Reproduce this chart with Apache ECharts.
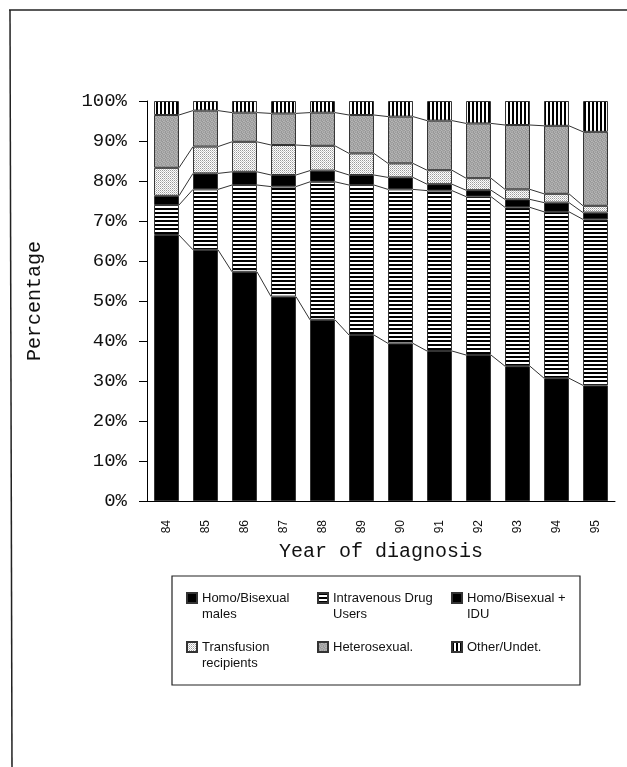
<!DOCTYPE html>
<html>
<head>
<meta charset="utf-8">
<script src="https://cdn.jsdelivr.net/npm/echarts@6/dist/echarts.min.js"></script>
<style>html,body{margin:0;padding:0;background:#fff}#c{width:627px;height:767px}</style>
</head>
<body>
<div id="c"></div>
<script>
// ---- data ----
const years = ['84','85','86','87','88','89','90','91','92','93','94','95'];
const homoBi      = [66.5, 62.8, 57.3, 51.1, 45.3, 41.5, 39.4, 37.5, 36.5, 33.7, 30.7, 28.9];
const idu         = [7.5, 15.1, 21.7, 27.5, 34.5, 37.5, 38.5, 40.1, 39.6, 39.7, 41.6, 41.5];
const homoBiIdu   = [2.3, 4.0, 3.3, 2.9, 2.8, 2.5, 3.0, 1.6, 1.6, 2.0, 2.3, 1.7];
const transfusion = [7.0, 6.7, 7.5, 7.5, 6.2, 5.4, 3.5, 3.5, 3.0, 2.5, 2.2, 1.7];
const hetero      = [13.2, 9.0, 7.3, 7.9, 8.3, 9.6, 11.7, 12.4, 13.7, 16.1, 17.0, 18.5];
const other       = [3.5, 2.4, 2.9, 3.1, 2.9, 3.5, 3.9, 4.9, 5.6, 6.0, 6.2, 7.7];
const seriesNames = ['Homo/Bisexual males','Intravenous Drug Users','Homo/Bisexual + IDU','Transfusion recipients','Heterosexual.','Other/Undet.'];
const legendLines = {
  'Homo/Bisexual males': ['Homo/Bisexual', 'males'],
  'Intravenous Drug Users': ['Intravenous Drug', 'Users'],
  'Homo/Bisexual + IDU': ['Homo/Bisexual +', 'IDU'],
  'Transfusion recipients': ['Transfusion', 'recipients'],
  'Heterosexual.': ['Heterosexual.'],
  'Other/Undet.': ['Other/Undet.']
};

// ---- patterns ----
function makePattern(w, h, draw) {
  const c = document.createElement('canvas');
  c.width = w; c.height = h;
  const g = c.getContext('2d');
  draw(g);
  return { image: c, repeat: 'repeat' };
}
const patHStripes = makePattern(4, 4, g => { g.fillStyle = '#fff'; g.fillRect(0,0,4,4); g.fillStyle = '#000'; g.fillRect(0,0,4,2); });
const patVStripes = makePattern(4, 4, g => { g.fillStyle = '#fff'; g.fillRect(0,0,4,4); g.fillStyle = '#000'; g.fillRect(0,0,2,4); });
const patDots = makePattern(2, 2, g => { g.fillStyle = '#fff'; g.fillRect(0,0,2,2); g.fillStyle = '#9a9a9a'; g.fillRect(0,0,1,1); g.fillStyle = '#c8c8c8'; g.fillRect(1,1,1,1); });
const patGrey = makePattern(4, 4, g => {
  const v = [[0xa8,0x98,0xb4,0x9c],[0xb0,0xa0,0x94,0xb8],[0x9a,0xb6,0xa4,0x9e],[0xb2,0x96,0xac,0xa6]];
  for (let y = 0; y < 4; y++) for (let x = 0; x < 4; x++) { const n = v[y][x]; g.fillStyle = 'rgb(' + n + ',' + n + ',' + n + ')'; g.fillRect(x, y, 1, 1); }
});

const segData = [homoBi, idu, homoBiIdu, transfusion, hetero, other];
const segColors = ['#000', patHStripes, '#000', patDots, patGrey, patVStripes];

// cumulative boundaries for the connecting lines
const cum = [];
let run = years.map(() => 0);
for (let k = 0; k < 5; k++) {
  run = run.map((v, i) => v + segData[k][i]);
  cum.push(run.slice());
}
const lineData = [];
cum.forEach(arr => { for (let i = 0; i < years.length - 1; i++) lineData.push([i, arr[i], arr[i + 1]]); });

const BAR_FRAC = 0.64;
const series = seriesNames.map((name, k) => ({
  name: name,
  type: 'bar',
  stack: 'all',
  barWidth: (BAR_FRAC * 100) + '%',
  data: segData[k],
  itemStyle: { color: segColors[k], borderColor: '#333', borderWidth: 1 },
  emphasis: { disabled: true },
  silent: true
}));
series.push({
  type: 'custom',
  name: 'connectors',
  silent: true,
  z: 5,
  encode: { x: 0, y: [1, 2] },
  data: lineData,
  renderItem: function (params, api) {
    const i = api.value(0);
    const p1 = api.coord([i, api.value(1)]);
    const p2 = api.coord([i + 1, api.value(2)]);
    const half = api.size([1, 0])[0] * BAR_FRAC / 2;
    return {
      type: 'line',
      shape: { x1: p1[0] + half, y1: p1[1], x2: p2[0] - half, y2: p2[1] },
      style: { stroke: '#333', lineWidth: 1 }
    };
  }
});

const legendPos = [
  { name: seriesNames[0], left: 186, row: 0 },
  { name: seriesNames[1], left: 317, row: 0 },
  { name: seriesNames[2], left: 451, row: 0 },
  { name: seriesNames[3], left: 186, row: 1 },
  { name: seriesNames[4], left: 317, row: 1 },
  { name: seriesNames[5], left: 451, row: 1 }
];
const rowIconCenter = [598, 647];
const LH = 16;
const legends = legendPos.map(p => {
  const lines = legendLines[p.name];
  // blank line above so that the first text line is centred on the icon
  const padded = lines.length > 1 ? ['', lines[0], lines[1]] : [lines[0]];
  const boxH = padded.length * LH;
  return {
    data: [p.name],
    left: p.left,
    top: rowIconCenter[p.row] - boxH / 2,
    padding: 0,
    itemWidth: 10,
    itemHeight: 10,
    itemGap: 0,
    icon: 'rect',
    selectedMode: false,
    formatter: () => padded.join('\n'),
    textStyle: { fontFamily: 'Liberation Sans', fontSize: 13, color: '#111', lineHeight: LH }
  };
});

const chart = echarts.init(document.getElementById('c'), null, { renderer: 'canvas' });
chart.setOption({
  animation: false,
  backgroundColor: '#fff',
  grid: { left: 147, right: 12, top: 101, bottom: 266 },
  xAxis: {
    type: 'category',
    data: years,
    name: 'Year of diagnosis',
    nameLocation: 'middle',
    nameGap: 40,
    nameTextStyle: { fontFamily: 'Liberation Mono', fontSize: 20, color: '#111' },
    axisLine: { lineStyle: { color: '#000', width: 1 } },
    axisTick: { length: 7, lineStyle: { color: '#000' } },
    axisLabel: { rotate: 90, margin: 19, fontFamily: 'Liberation Sans', fontSize: 12, color: '#111' }
  },
  yAxis: {
    type: 'value',
    min: 0, max: 100, interval: 10,
    name: 'Percentage',
    nameLocation: 'middle',
    nameGap: 102,
    nameTextStyle: { fontFamily: 'Liberation Mono', fontSize: 20, color: '#111' },
    axisLine: { show: true, lineStyle: { color: '#000', width: 1 } },
    axisTick: { show: true, length: 8, lineStyle: { color: '#000' } },
    splitLine: { show: false },
    axisLabel: { formatter: '{value}%', margin: 20, fontFamily: 'Liberation Mono', fontSize: 19, color: '#111' }
  },
  legend: legends,
  series: series,
  graphic: [
    { type: 'line', shape: { x1: 9, y1: 10, x2: 627, y2: 10 }, style: { stroke: '#222', lineWidth: 1.5 } },
    { type: 'line', shape: { x1: 10, y1: 10, x2: 12, y2: 767 }, style: { stroke: '#222', lineWidth: 1.5 } },
    { type: 'rect', shape: { x: 172, y: 576, width: 408, height: 109 }, style: { fill: 'none', stroke: '#222', lineWidth: 1.2 } }
  ]
});
</script>
</body>
</html>
